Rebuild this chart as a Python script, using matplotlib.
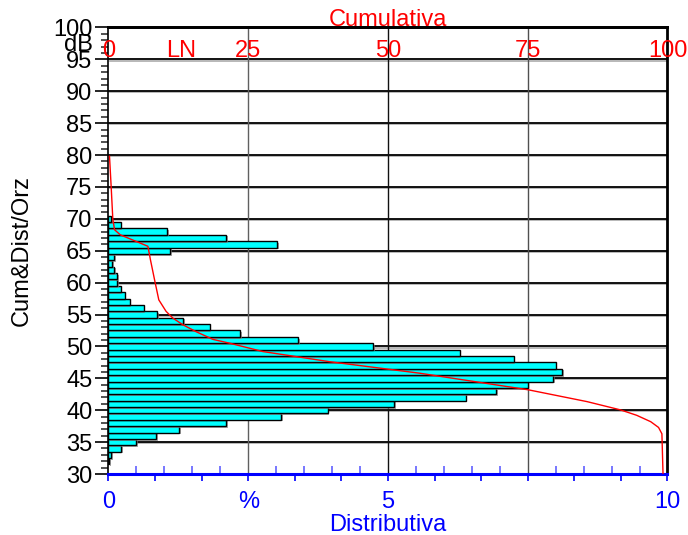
import matplotlib
matplotlib.use("Agg")
from matplotlib import pyplot as plt
import matplotlib.patheffects as pe
import numpy as np

plt.rcParams['font.family'] = ['Liberation Sans', 'DejaVu Sans']

# Distribution of levels (% of time per 1 dB class)
levels_db = list(range(32, 71))
dist_pct = [0.01, 0.05, 0.23, 0.50, 0.85, 1.27, 2.11, 3.09, 3.92, 5.11,
            6.39, 6.94, 7.50, 7.96, 8.12, 8.00, 7.25, 6.28, 4.73, 3.39,
            2.36, 1.81, 1.33, 0.87, 0.63, 0.38, 0.29, 0.22, 0.15, 0.15,
            0.10, 0.07, 0.10, 1.10, 3.02, 2.10, 1.05, 0.215, 0.05]

# Cumulative curve
cum_db = [79.8, 75, 70, 68.3, 67.5, 65.7, 63.6, 60.45, 57.3, 55.5, 54.45, 53.4,
          52.3, 51.1, 50.5, 49.2, 47.6, 45.8, 43.2, 41.35, 40.05, 39.2, 38.2,
          37.3, 36.3, 30]
cum_pct = [0.18, 0.48, 0.77, 1.08, 2.1, 7.05, 7.5, 8.24, 9.0, 10.3, 11.5, 13.3,
           15.7, 18.7, 21.7, 27.6, 39.6, 55.7, 75.1, 85.6, 91.6, 94.5, 97.0,
           98.4, 99.0, 99.2]

cum_ticks = [0, 13, 25, 50, 75, 100]
cum_labels = ['0', 'LN', '25', '50', '75', '100']
dist_labels = ['0', '', '', '%', '', '', '5', '', '', '', '', '', '10']

FS = 17
BLUE = '#0000ff'

fig = plt.figure(figsize=(6.88, 5.35), dpi=100)
ax = fig.add_axes([0.1577, 0.114, 0.8125, 0.8346])
ax.set_xlim(0, 10)
ax.set_ylim(30, 100)

# grid
shadow = [pe.SimpleLineShadow(offset=(0.8, -0.8), shadow_color='gray', alpha=0.6), pe.Normal()]
for y in np.arange(35, 100, 5):
    ax.axhline(y, color='black', lw=1.3, zorder=1, path_effects=shadow)
for x, c in [(2.5, '#606060'), (5, '#111111'), (7.5, '#505050')]:
    ax.axvline(x, color=c, lw=1.0, zorder=1)

# bars
bars = ax.barh(levels_db, dist_pct, height=1, left=0, color='#00ffff',
               edgecolor='black', linewidth=1.0, zorder=2)
for b in bars:
    b.set_path_effects([pe.SimplePatchShadow(offset=(1.2, -1.2), shadow_rgbFace='gray', alpha=0.7),
                        pe.Normal()])

# left axis
ax.set_yticks(np.arange(30, 101, 5))
ax.set_yticks(np.arange(30, 101, 1), minor=True)
ax.tick_params(axis='y', which='major', length=9.5, width=1.2, labelsize=FS, pad=2)
ax.tick_params(axis='y', which='minor', length=5, width=1.2, color='#333333')
ax.set_ylabel('Cum&Dist/Orz', fontsize=FS, labelpad=15)
ax.text(-0.028, 97.2, 'dB', transform=ax.get_yaxis_transform(), ha='right', va='center',
        fontsize=FS)

# bottom axis (distributive)
ax.set_xticks(np.linspace(0, 10, 13), dist_labels)
ax.set_xticks(np.arange(0, 10.01, 0.5), minor=True)
ax.tick_params(axis='x', which='major', length=5, width=1.2, color=BLUE,
               labelcolor=BLUE, labelsize=FS, pad=7)
ax.tick_params(axis='x', which='minor', direction='in', length=6, width=1.2, color='#6060ff')
ax.set_xlabel('Distributiva', color=BLUE, fontsize=FS, labelpad=1)

for side in ['top', 'right']:
    ax.spines[side].set_linewidth(2)
    ax.spines[side].set_color('black')
ax.spines['left'].set_linewidth(1.2)
ax.spines['bottom'].set_color(BLUE)
ax.spines['bottom'].set_linewidth(2.2)
ax.spines['bottom'].set_zorder(5)

# top axis (cumulative)
ax2 = ax.twiny()
ax2.set_xlim(0, 100)
ax2.plot(cum_pct, cum_db, color='red', lw=1.0, zorder=3)
ax2.set_xticks(cum_ticks, cum_labels)
ax2.tick_params(axis='x', length=0, pad=-25, labelcolor='red', labelsize=FS)
ax2.set_xlabel('Cumulativa', color='red', fontsize=FS, labelpad=1)
for side in ['bottom', 'left', 'right']:
    ax2.spines[side].set_visible(False)
ax2.spines['top'].set_linewidth(2)

fig.savefig('out.png', dpi=100)
